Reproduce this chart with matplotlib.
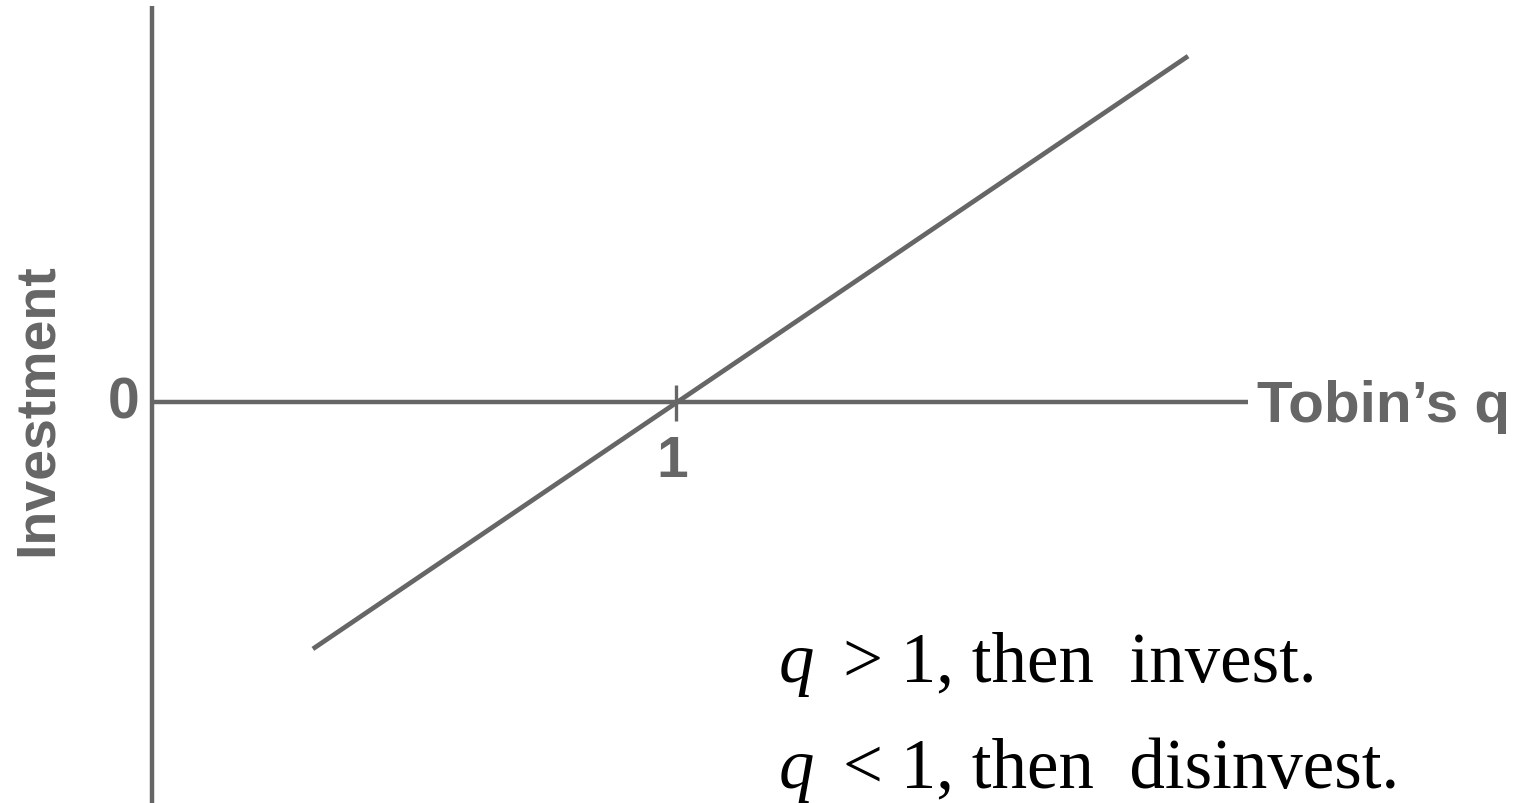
import matplotlib.pyplot as plt

# line: Tobin's q vs investment (axis units, q = 1 at the crossing)
q_line = [0.307, 1.977]
inv_line = [-0.471, 0.660]

x_ticks = [1]
x_tick_labels = ['1']
y_ticks = [0]
y_tick_labels = ['0']

rules = ['q > 1, then  invest.', 'q < 1, then  disinvest.']

grey = '#666666'
sans = 'Liberation Sans'
serif = 'Liberation Serif'

fig = plt.figure(figsize=(15.24, 8.04), dpi=100)
ax = fig.add_axes([0, 0, 1, 1])
ax.set_xlim(-0.290, 2.618)
ax.set_ylim(-0.765, 0.769)
ax.axis('off')

# axes drawn by hand, like the original slide
ax.plot([0, 0], [-0.765, 0.756], color=grey, lw=3.2, solid_capstyle='butt')
ax.plot([0, 2.092], [0, 0], color=grey, lw=3.2, solid_capstyle='butt')

for t in x_ticks:
    ax.plot([t, t], [-0.036, 0.032], color=grey, lw=2.4, solid_capstyle='butt')

ax.plot(q_line, inv_line, color=grey, lw=3.4, solid_capstyle='butt')

for t, lab in zip(x_ticks, x_tick_labels):
    ax.text(t - 0.008, -0.113, lab, ha='center', va='center', color=grey,
            fontsize=41, fontweight='bold', family=sans)
for t, lab in zip(y_ticks, y_tick_labels):
    ax.text(-0.055, t, lab, ha='center', va='center', color=grey,
            fontsize=41, fontweight='bold', family=sans)

ax.text(2.109, -0.036, "Tobin\u2019s q", ha='left', va='baseline', color=grey,
        fontsize=42, fontweight='bold', family=sans)
ax.text(-0.218, -0.013, 'Investment', ha='center', va='center', rotation=90,
        color=grey, fontsize=40, fontweight='bold', family=sans)

# the two rules, q in italics
for rule, yb in zip(rules, [-0.532, -0.735]):
    ax.text(1.195, yb, rule[0], ha='left', va='baseline', fontsize=51,
            family=serif, style='italic', color='black')
    ax.text(1.319, yb, rule[2:], ha='left', va='baseline', fontsize=51,
            family=serif, color='black')

fig.savefig('out.png', dpi=100)
